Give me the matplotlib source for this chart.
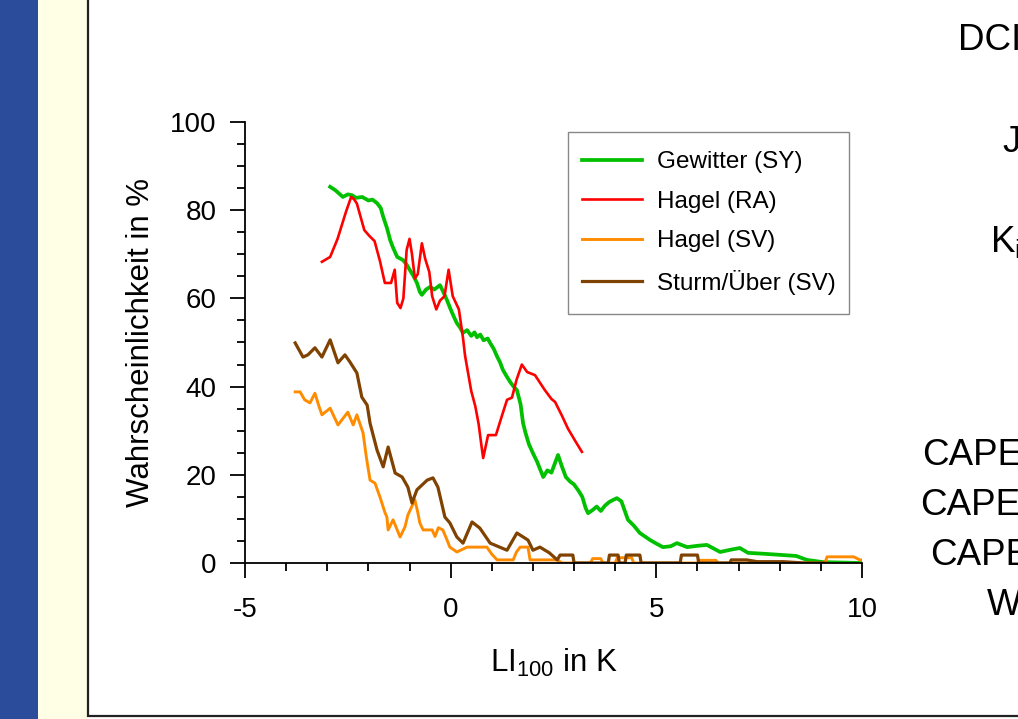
import matplotlib.pyplot as plt
from matplotlib.patches import Rectangle
from matplotlib.ticker import MultipleLocator

plt.rcParams['font.family'] = ['Liberation Sans', 'DejaVu Sans']
plt.rcParams['mathtext.fontset'] = 'custom'
plt.rcParams['mathtext.rm'] = 'Liberation Sans'
plt.rcParams['mathtext.it'] = 'Liberation Sans:italic'

# LI100 (K) vs. probability (%)
gew_x = [-2.93, -2.80, -2.62, -2.50, -2.40, -2.30, -2.15, -2.00, -1.90, -1.79,
         -1.70, -1.64, -1.55, -1.47, -1.40, -1.30, -1.16, -1.08, -0.99, -0.90,
         -0.82, -0.75, -0.70, -0.60, -0.50, -0.40, -0.26, -0.18, -0.09, 0.00,
         0.08, 0.15, 0.22, 0.30, 0.40, 0.50, 0.58, 0.64, 0.72, 0.80,
         0.90, 0.96, 1.05, 1.12, 1.20, 1.27, 1.35, 1.45, 1.53, 1.61,
         1.70, 1.76, 1.82, 1.90, 2.00, 2.10, 2.25, 2.35, 2.45, 2.55,
         2.61, 2.70, 2.80, 2.90, 3.00, 3.10, 3.20, 3.28, 3.34, 3.45,
         3.55, 3.65, 3.75, 3.85, 3.95, 4.04, 4.15, 4.31, 4.45, 4.60,
         4.85, 5.00, 5.16, 5.35, 5.50, 5.75, 6.00, 6.23, 6.55, 6.80,
         7.03, 7.23, 7.60, 8.08, 8.40, 8.66, 9.05, 9.50, 10.0]
gew_y = [85.3, 84.5, 83.0, 83.6, 83.4, 82.8, 83.0, 82.2, 82.4, 81.6,
         80.5, 78.5, 76.0, 73.2, 71.5, 69.4, 68.7, 67.8, 66.4, 65.0,
         63.5, 61.5, 60.8, 62.0, 62.6, 62.0, 63.0, 61.5, 59.6, 57.5,
         55.8, 54.4, 53.5, 52.2, 52.8, 51.5, 52.3, 51.2, 51.8, 50.5,
         50.9, 49.9, 48.5, 47.0, 45.5, 43.8, 42.5, 41.0, 40.0, 39.2,
         36.0, 31.7, 29.5, 27.0, 24.9, 23.0, 19.5, 21.0, 20.5, 23.0,
         24.5, 22.0, 19.5, 18.5, 17.8, 16.5, 15.0, 12.5, 11.3, 12.0,
         12.8, 11.8, 13.0, 13.8, 14.3, 14.7, 14.0, 9.8, 8.5, 6.8,
         5.2, 4.4, 3.6, 3.8, 4.5, 3.6, 3.9, 4.1, 2.5, 3.0,
         3.4, 2.3, 2.1, 1.8, 1.6, 0.7, 0.2, 0.1, 0.0]

hra_x = [-3.13, -2.93, -2.75, -2.55, -2.42, -2.35, -2.28, -2.10, -1.98, -1.85,
         -1.72, -1.60, -1.45, -1.36, -1.30, -1.22, -1.15, -1.07, -1.00, -0.94,
         -0.87, -0.80, -0.70, -0.62, -0.52, -0.45, -0.35, -0.26, -0.15, -0.05,
         0.05, 0.20, 0.30, 0.35, 0.50, 0.60, 0.68, 0.75, 0.79, 0.91,
         1.10, 1.25, 1.37, 1.49, 1.60, 1.73, 1.86, 2.05, 2.29, 2.45,
         2.54, 2.70, 2.85, 3.02, 3.19]
hra_y = [68.3, 69.4, 73.5, 79.5, 83.0, 82.5, 81.5, 75.5, 74.2, 73.0,
         68.5, 63.5, 63.5, 66.5, 59.0, 57.8, 60.0, 71.0, 73.5, 70.0,
         64.5, 65.5, 72.5, 69.0, 66.0, 60.5, 57.5, 59.5, 60.5, 66.5,
         60.5, 57.5, 51.0, 47.0, 39.0, 35.5, 31.5, 26.5, 23.8, 29.0,
         29.0, 33.5, 37.0, 37.5, 41.5, 45.0, 43.3, 42.6, 39.2, 37.2,
         36.5, 33.5, 30.5, 27.8, 25.2]

hsv_x = [-3.78, -3.66, -3.55, -3.42, -3.30, -3.20, -3.13, -2.93, -2.74, -2.60,
         -2.50, -2.37, -2.28, -2.13, -2.05, -1.96, -1.84, -1.72, -1.60, -1.55,
         -1.52, -1.40, -1.23, -1.11, -1.04, -0.87, -0.80, -0.75, -0.67, -0.45,
         -0.38, -0.30, -0.19, -0.10, -0.02, 0.15, 0.40, 0.88, 1.00, 1.13,
         1.52, 1.60, 1.69, 1.88, 1.93, 2.60, 2.70, 3.40, 3.45, 3.65,
         3.70, 4.00, 4.05, 4.40, 4.45, 6.00, 6.05, 6.45, 6.50, 9.10,
         9.15, 9.80, 9.95, 10.0]
hsv_y = [38.8, 38.8, 37.0, 36.3, 38.5, 35.5, 33.6, 35.1, 31.3, 33.0,
         34.2, 31.3, 33.6, 29.5, 24.0, 18.8, 18.1, 15.0, 11.5, 10.4,
         7.5, 9.8, 5.9, 8.2, 10.9, 14.3, 11.5, 9.1, 7.5, 7.5,
         6.0, 8.0, 7.5, 5.5, 3.6, 2.5, 3.6, 3.6, 2.0, 0.7,
         0.7, 2.5, 3.6, 3.6, 0.7, 0.7, 0.0, 0.0, 1.0, 1.0,
         0.0, 0.0, 1.2, 1.2, 0.0, 0.0, 0.6, 0.6, 0.0, 0.0,
         1.4, 1.4, 0.7, 0.7]

sts_x = [-3.78, -3.59, -3.47, -3.30, -3.13, -2.93, -2.74, -2.57, -2.45, -2.28,
         -2.16, -2.03, -1.96, -1.79, -1.64, -1.52, -1.35, -1.18, -1.04, -0.94,
         -0.82, -0.57, -0.43, -0.31, -0.14, -0.02, 0.15, 0.30, 0.52, 0.71,
         0.96, 1.37, 1.61, 1.88, 2.00, 2.17, 2.40, 2.59, 2.66, 2.97,
         3.00, 3.83, 3.86, 4.07, 4.10, 4.24, 4.27, 4.60, 4.63, 5.58,
         5.61, 6.00, 6.03, 6.79, 6.82, 7.20, 7.45, 8.08, 8.60, 9.10]
sts_y = [49.9, 46.7, 47.2, 48.8, 46.7, 50.6, 45.4, 47.2, 45.6, 43.1,
         37.6, 35.8, 31.7, 25.6, 21.8, 26.3, 20.4, 19.5, 17.2, 13.6,
         16.6, 18.8, 19.3, 17.2, 10.4, 9.1, 5.9, 4.5, 9.3, 7.9,
         4.5, 2.9, 6.8, 5.2, 2.9, 3.6, 2.3, 0.7, 1.8, 1.8,
         0.0, 0.0, 1.8, 1.8, 0.0, 0.0, 1.8, 1.8, 0.0, 0.0,
         1.8, 1.8, 0.0, 0.0, 0.7, 0.7, 0.3, 0.3, 0.0, 0.0]

W, H = 1018, 719
fig = plt.figure(figsize=(W / 100, H / 100), dpi=100)
fig.patch.set_facecolor('white')

# slide background
fig.patches.append(Rectangle((0, 0), 38 / W, 1, transform=fig.transFigure,
                             facecolor='#2B4B9B', edgecolor='none', zorder=-3))
fig.patches.append(Rectangle((38 / W, 0), 50 / W, 1, transform=fig.transFigure,
                             facecolor='#FFFFE5', edgecolor='none', zorder=-3))
fig.patches.append(Rectangle((88 / W, 1 - 716 / H), 1.0, 1.0, transform=fig.transFigure,
                             facecolor='white', edgecolor='#222222', linewidth=1.6, zorder=-2))

ax = fig.add_axes([245 / W, 1 - 563 / H, 617 / W, 441 / H])
ax.set_zorder(5)
ax.set_facecolor('none')

ax.plot(gew_x, gew_y, color='#00C000', lw=2.7, label='Gewitter (SY)')
ax.plot(hra_x, hra_y, color='#FF0000', lw=1.9, label='Hagel (RA)')
ax.plot(hsv_x, hsv_y, color='#FF8C00', lw=2.1, label='Hagel (SV)')
ax.plot(sts_x, sts_y, color='#7F4200', lw=2.3, label='Sturm/Über (SV)')

ax.set_xlim(-5, 10)
ax.set_ylim(0, 100)
ax.xaxis.set_major_locator(MultipleLocator(5))
ax.xaxis.set_minor_locator(MultipleLocator(1))
ax.yaxis.set_major_locator(MultipleLocator(20))
ax.yaxis.set_minor_locator(MultipleLocator(5))
for s in ['top', 'right']:
    ax.spines[s].set_visible(False)
for s in ['left', 'bottom']:
    ax.spines[s].set_linewidth(1.3)
ax.tick_params(which='major', length=10.5, width=1.3, labelsize=20)
ax.tick_params(which='minor', length=5.5, width=1.3)
ax.tick_params(axis='y', which='major', pad=10)
ax.tick_params(axis='x', which='major', pad=14)
ax.xaxis.set_major_formatter(plt.FuncFormatter(lambda v, p: f'{v:g}'))

ax.set_ylabel('Wahrscheinlichkeit in %', fontsize=22.5, labelpad=10)
ax.set_xlabel(r'LI$_{\mathrm{100}}$ in K', fontsize=22.5, labelpad=17)

# legend without its own frame; the box is drawn separately (taller padding)
leg = ax.legend(loc='upper left', bbox_to_anchor=(323 / 617, (563 - 137) / 441),
                borderaxespad=0, fontsize=17.5, frameon=False,
                handlelength=2.45, handletextpad=0.62,
                labelspacing=0.72, borderpad=0.58)
fig.patches.append(Rectangle((568 / W, 1 - 314 / H), 281 / W, 182 / H,
                             transform=fig.transFigure, fill=False,
                             edgecolor='#888888', linewidth=1.0, zorder=6))

# cut-off slide text on the right
side = [('DCI', 958, 50), ('J', 1002, 152), (r'K$_{\mathrm{i}}$', 990, 252),
        ('CAPE', 922, 465), ('CAPE', 920, 515), ('CAPE', 930, 565), ('W', 987, 615)]
for txt, px, py in side:
    fig.text(px / W, 1 - py / H, txt, fontsize=26.5, color='black',
             ha='left', va='baseline')

fig.savefig('out.png', dpi=100)
